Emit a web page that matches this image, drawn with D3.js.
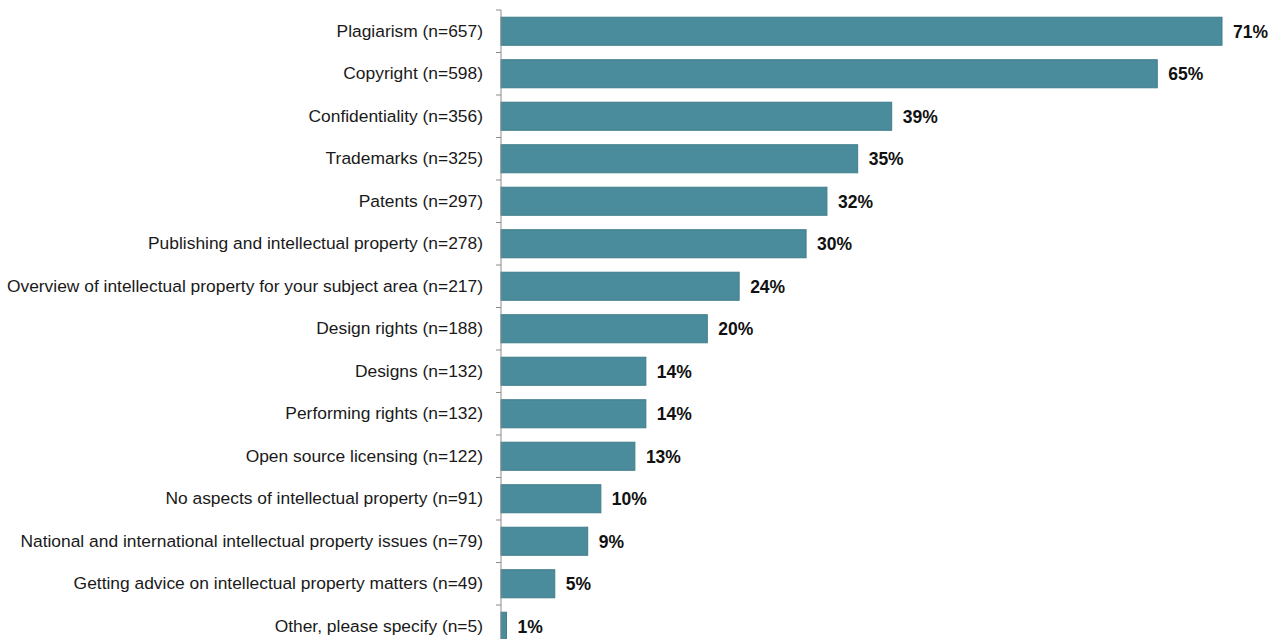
<!DOCTYPE html>
<html>
<head>
<meta charset="utf-8">
<script src="https://cdn.jsdelivr.net/npm/d3@7"></script>
<style>
  html, body { margin: 0; padding: 0; background: #fff; }
  svg { display: block; }
</style>
</head>
<body>
<div id="chart"></div>
<script>
const categories = [
    "Plagiarism (n=657)",
    "Copyright (n=598)",
    "Confidentiality (n=356)",
    "Trademarks (n=325)",
    "Patents (n=297)",
    "Publishing and intellectual property (n=278)",
    "Overview of intellectual property for your subject area (n=217)",
    "Design rights (n=188)",
    "Designs (n=132)",
    "Performing rights (n=132)",
    "Open source licensing (n=122)",
    "No aspects of intellectual property (n=91)",
    "National and international intellectual property issues (n=79)",
    "Getting advice on intellectual property matters (n=49)",
    "Other, please specify (n=5)"
];
const counts = [657, 598, 356, 325, 297, 278, 217, 188, 132, 132, 122, 91, 79, 49, 5];
const percentLabels = ["71%", "65%", "39%", "35%", "32%", "30%", "24%", "20%", "14%", "14%", "13%", "10%", "9%", "5%", "1%"];

const createChart = () => {
    const width = 1277;
    const height = 639;
    const axisX = 501;
    const fontFamily = "'Liberation Sans', Arial, sans-serif";

    const svg = d3.select("#chart")
        .append("svg")
        .attr("width", width)
        .attr("height", height);

    const rows = categories.map((c, i) => ({ label: c, n: counts[i], pct: percentLabels[i] }));

    const x = d3.scaleLinear()
        .domain([0, d3.max(counts)])
        .range([axisX, 1222]);

    const y = d3.scaleBand()
        .domain(categories)
        .range([10, 10 + 42.5 * categories.length])
        .paddingInner(0.34)
        .paddingOuter(0.17);

    // bars
    svg.append("g")
        .selectAll("rect")
        .data(rows)
        .join("rect")
        .attr("x", x(0))
        .attr("y", d => y(d.label))
        .attr("width", d => x(d.n) - x(0))
        .attr("height", y.bandwidth())
        .style("fill", "#4a8c9b")
        .style("stroke", "#3f7d8c")
        .style("stroke-width", 1);

    // category axis
    const axis = svg.append("g")
        .attr("transform", `translate(${axisX},0)`)
        .call(d3.axisLeft(y).tickSize(0).tickPadding(18));
    axis.select(".domain").remove();
    axis.selectAll("text")
        .attr("font-family", fontFamily)
        .attr("font-size", "17.4px")
        .attr("fill", "#1a1a1a");

    // axis line and boundary ticks
    const step = y.step();
    const bounds = d3.range(categories.length + 1).map(i => 10 + step * i);
    svg.append("line")
        .attr("x1", axisX).attr("x2", axisX)
        .attr("y1", 10).attr("y2", height)
        .style("stroke", "#8c8c8c")
        .style("stroke-width", 1);
    svg.append("g")
        .selectAll("line")
        .data(bounds)
        .join("line")
        .attr("x1", axisX - 5).attr("x2", axisX)
        .attr("y1", d => d).attr("y2", d => d)
        .style("stroke", "#8c8c8c")
        .style("stroke-width", 1);

    // value labels
    svg.append("g")
        .selectAll("text")
        .data(rows)
        .join("text")
        .text(d => d.pct)
        .attr("x", d => x(d.n) + 11)
        .attr("y", d => y(d.label) + y.bandwidth() / 2)
        .attr("dy", "0.36em")
        .attr("font-family", fontFamily)
        .attr("font-size", "17.5px")
        .attr("font-weight", "bold")
        .attr("fill", "#111");
};

document.addEventListener("DOMContentLoaded", createChart);
</script>
</body>
</html>
